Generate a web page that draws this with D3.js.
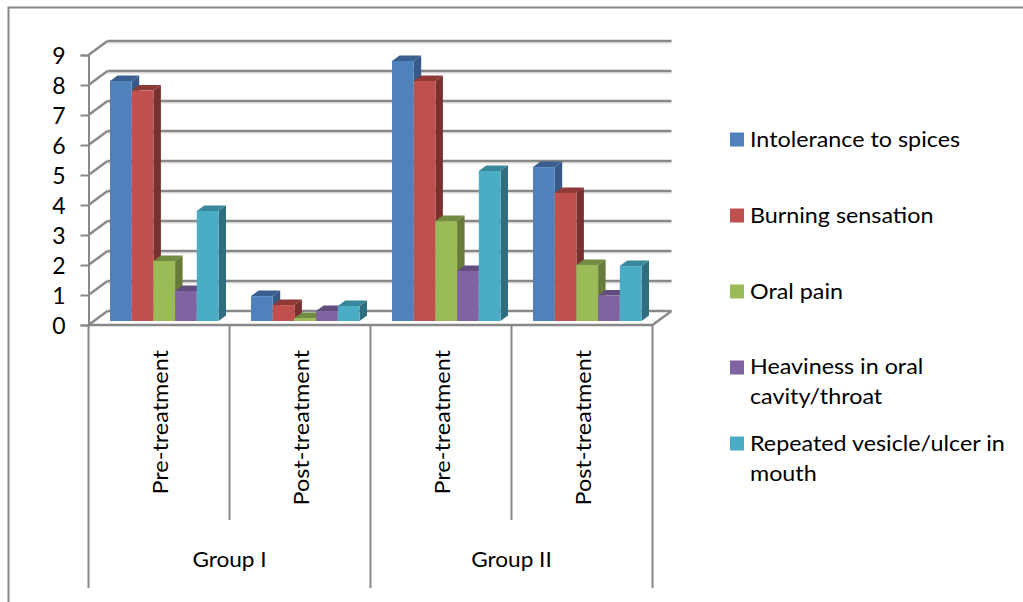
<!DOCTYPE html>
<html>
<head>
<meta charset="utf-8">
<script src="https://cdn.jsdelivr.net/npm/d3@7/dist/d3.min.js"></script>
<style>
  html, body { margin: 0; padding: 0; background: #fff; }
  svg { display: block; }
  text { font-family: Lato, "Open Sans", sans-serif; fill: #000; }
</style>
</head>
<body>
<svg id="chart" width="1023" height="602"></svg>
<script>
// Symptom scores by group and treatment stage
const groups = ["Group I", "Group II"];
const stages = ["Pre-treatment", "Post-treatment", "Pre-treatment", "Post-treatment"];
const seriesNames = [
  "Intolerance to spices",
  "Burning sensation",
  "Oral pain",
  "Heaviness in oral cavity/throat",
  "Repeated vesicle/ulcer in mouth"
];
const intolerance = [8.0, 0.83, 8.67, 5.13];
const burning = [7.68, 0.53, 8.0, 4.27];
const oralPain = [2.0, 0.1, 3.33, 1.87];
const heaviness = [1.0, 0.33, 1.67, 0.85];
const vesicle = [3.67, 0.5, 5.0, 1.83];
const seriesValues = [intolerance, burning, oralPain, heaviness, vesicle];
const yTicks = [0, 1, 2, 3, 4, 5, 6, 7, 8, 9];

const frontColors = ["#4F81BD", "#C0504D", "#9BBB59", "#8064A2", "#4BACC6"];
const sideColors = ["#37598A", "#7A302E", "#677B3B", "#5A4675", "#2F6E80"];
const topColors = ["#3A5F8E", "#8E3A38", "#738A41", "#634D7E", "#38879B"];
const gridColor = "#888888";

const svg = d3.select("#chart");

// Outer chart border, clipped by the page on the right and bottom
svg.append("path")
  .attr("d", "M8.5,602V7.5H1023")
  .attr("fill", "none").attr("stroke", gridColor).attr("stroke-width", 2);

// Plot geometry: front plane, and the oblique offset to the back wall
const left = 88.5, right = 652.5;
const wallDx = 19, wallDy = -14;
const barDx = 7.5, barDy = -5.5;
const axisY = d3.scaleLinear().domain([0, 9]).range([325, 55]);
const barY = d3.scaleLinear().domain([0, 9]).range([321, 51]);
const stageX = d3.scaleBand().domain(d3.range(stages.length)).range([left, right]);
const groupX = d3.scaleBand().domain(groups).range([left, right]);
const seriesX = d3.scaleBand().domain(d3.range(seriesNames.length)).range([21.5, 130]);

// Back-wall gridlines with their faint shadow, and the left-wall diagonals
const grid = svg.append("g").attr("fill", "none");
yTicks.forEach(t => {
  const y = axisY(t);
  if (t > 0) {
    grid.append("line")
      .attr("x1", left + wallDx).attr("x2", right + wallDx)
      .attr("y1", y + wallDy + 2).attr("y2", y + wallDy + 2)
      .attr("stroke", "#e6e6e6").attr("stroke-width", 1.5);
  }
  grid.append("line")
    .attr("x1", left + wallDx).attr("x2", right + wallDx)
    .attr("y1", y + wallDy).attr("y2", y + wallDy)
    .attr("stroke", gridColor).attr("stroke-width", 2.4);
  grid.append("line")
    .attr("x1", left).attr("x2", left + wallDx)
    .attr("y1", y).attr("y2", y + wallDy)
    .attr("stroke", gridColor).attr("stroke-width", 2.4);
});

// Floor edges
grid.append("path")
  .attr("d", `M${left},${axisY(0)}H${right}L${right + wallDx},${axisY(0) + wallDy}`)
  .attr("stroke", gridColor).attr("stroke-width", 2.4);

// Value axis
const yAxis = svg.append("g")
  .attr("transform", `translate(${left},0)`)
  .call(d3.axisLeft(axisY).tickValues(yTicks).tickSize(8).tickPadding(15).tickFormat(d3.format("d")));
yAxis.select(".domain").attr("stroke", gridColor).attr("stroke-width", 2);
yAxis.selectAll(".tick line").attr("stroke", gridColor).attr("stroke-width", 2);
yAxis.selectAll("text")
  .attr("font-size", 23).attr("font-family", "Lato").attr("fill", "#000")
  .attr("y", 1.5);

// Bars: side and top faces first, then the front, painted left to right
const bars = svg.append("g");
stages.forEach((_, c) => {
  seriesValues.forEach((values, s) => {
    const x0 = stageX(c) + seriesX(s);
    const x1 = x0 + seriesX.bandwidth();
    const yTop = barY(values[c]);
    const yBase = barY(0);
    bars.append("path")
      .attr("d", `M${x1},${yTop}L${x1 + barDx},${yTop + barDy}V${yBase + barDy}L${x1},${yBase}Z`)
      .attr("fill", sideColors[s]);
    bars.append("path")
      .attr("d", `M${x0},${yTop}L${x0 + barDx},${yTop + barDy}H${x1 + barDx}L${x1},${yTop}Z`)
      .attr("fill", topColors[s]);
    bars.append("rect")
      .attr("x", x0).attr("y", yTop)
      .attr("width", seriesX.bandwidth()).attr("height", yBase - yTop)
      .attr("fill", frontColors[s]);
  });
});

// Two-level category axis: separators
const seps = svg.append("g").attr("stroke", gridColor).attr("stroke-width", 2);
d3.range(stages.length + 1).forEach(i => {
  const x = i < stages.length ? stageX(i) : right;
  seps.append("line")
    .attr("x1", x).attr("x2", x)
    .attr("y1", axisY(0)).attr("y2", i % 2 === 0 ? 588 : 520);
});

// Category labels, widened along the reading direction
stages.forEach((label, i) => {
  const x = stageX(i) + stageX.bandwidth() / 2 + 1;
  svg.append("text")
    .attr("transform", `translate(${x},350) rotate(-90) scale(1.09,1)`)
    .attr("text-anchor", "end").attr("dy", "0.36em")
    .attr("font-size", 21.5)
    .text(label);
});
groups.forEach(g => {
  svg.append("text")
    .attr("transform", `translate(${groupX(g) + groupX.bandwidth() / 2},559) scale(1.05,1)`)
    .attr("text-anchor", "middle").attr("dy", "0.36em")
    .attr("font-size", 21.5)
    .text(g);
});

// Legend, with the long names wrapped on two lines
const legendLines = [
  ["Intolerance to spices"],
  ["Burning sensation"],
  ["Oral pain"],
  ["Heaviness in oral", "cavity/throat"],
  ["Repeated vesicle/ulcer in", "mouth"]
];
const legendY = d3.scalePoint().domain(d3.range(seriesNames.length)).range([139, 443]);
const legend = svg.append("g");
seriesNames.forEach((name, i) => {
  legend.append("rect")
    .attr("x", 730).attr("y", legendY(i) - 6.5)
    .attr("width", 14).attr("height", 14)
    .attr("fill", frontColors[i]);
  legendLines[i].forEach((line, j) => {
    legend.append("text")
      .attr("transform", `translate(750,${legendY(i) + j * 30 - (i === 3 ? 1 : 0)}) scale(1.11,1)`)
      .attr("dy", "0.36em")
      .attr("font-size", 21)
      .text(line);
  });
});
</script>
</body>
</html>
